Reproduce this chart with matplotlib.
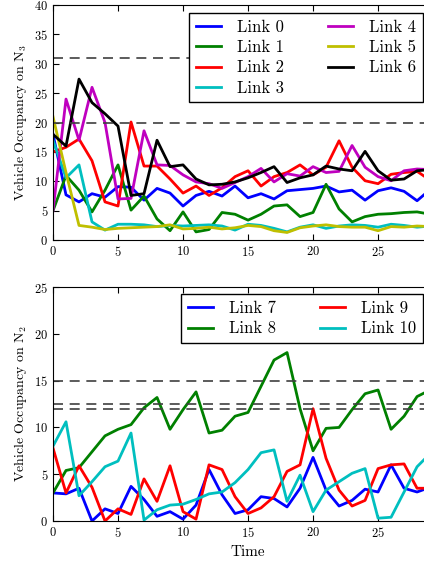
import matplotlib
matplotlib.use('Agg')
import matplotlib.pyplot as plt

plt.rcParams['font.family'] = 'cmr10'
plt.rcParams['mathtext.fontset'] = 'cm'
plt.rcParams['axes.formatter.use_mathtext'] = True

time = list(range(30))

# upper panel: links on N3
link0 = [18.0, 7.7, 6.5, 7.9, 7.3, 9.1, 9.0, 6.8, 8.8, 8.0, 5.8, 7.6, 8.3, 7.5, 9.2, 7.2,
         7.9, 7.0, 8.4, 8.6, 8.8, 9.2, 8.2, 8.5, 6.8, 8.4, 8.9, 8.3, 6.7, 8.6]
link1 = [5.0, 11.0, 8.5, 4.8, 8.5, 12.8, 5.1, 7.5, 3.6, 1.6, 4.8, 1.4, 1.8, 4.7, 4.4, 3.4,
         4.4, 5.8, 6.0, 4.0, 4.7, 9.5, 5.3, 3.1, 4.0, 4.4, 4.5, 4.7, 4.8, 4.4]
link2 = [15.0, 15.8, 17.2, 13.5, 6.5, 5.8, 20.1, 12.6, 12.6, 10.4, 8.0, 9.2, 7.6, 8.9, 10.8, 11.8,
         9.2, 10.8, 11.5, 12.8, 11.1, 12.4, 16.9, 12.4, 10.1, 9.6, 11.2, 11.5, 11.7, 10.2]
link3 = [17.0, 10.6, 12.8, 3.1, 1.7, 2.7, 2.7, 2.6, 2.3, 2.5, 2.4, 2.5, 2.6, 2.4, 1.7, 2.7,
         2.5, 2.0, 1.4, 2.2, 2.6, 2.0, 2.4, 2.6, 2.5, 2.2, 2.7, 2.5, 2.2, 2.4]
link4 = [5.0, 24.0, 17.0, 26.0, 20.0, 7.0, 7.1, 18.6, 12.8, 12.7, 11.1, 9.9, 9.6, 8.8, 9.8, 10.8,
         12.2, 9.9, 11.3, 10.9, 12.5, 11.5, 11.7, 16.1, 12.4, 10.8, 10.1, 11.8, 12.1, 12.0]
link5 = [21.0, 11.5, 2.5, 2.2, 1.8, 2.0, 2.1, 2.2, 2.3, 2.6, 1.9, 2.0, 2.2, 1.9, 2.1, 2.5,
         2.3, 1.6, 1.3, 2.1, 2.4, 2.6, 2.3, 2.2, 2.2, 1.6, 2.3, 2.2, 2.4, 2.3]
link6 = [18.0, 16.0, 27.4, 23.4, 21.5, 19.4, 7.6, 7.9, 17.0, 12.5, 12.8, 10.4, 9.4, 9.5, 9.9, 10.6,
         11.5, 12.5, 9.8, 10.6, 11.1, 12.6, 12.1, 11.8, 15.1, 11.8, 10.2, 10.4, 11.8, 12.0]
limits_n3 = [31, 20]

# lower panel: links on N2
link7 = [3.0, 2.9, 3.5, 0.0, 1.3, 0.8, 3.7, 2.3, 0.5, 1.0, 0.2, 1.7, 5.5, 2.8, 0.8, 1.2,
         2.6, 2.4, 1.5, 3.5, 6.8, 3.3, 1.6, 2.2, 3.4, 3.1, 6.0, 3.5, 3.1, 3.6]
link8 = [3.0, 5.4, 5.7, 7.4, 9.1, 9.8, 10.3, 12.1, 13.2, 9.8, 11.9, 13.8, 9.4, 9.7, 11.2, 11.6,
         14.4, 17.2, 18.0, 12.0, 7.5, 9.9, 10.0, 11.9, 13.6, 14.0, 9.8, 11.2, 13.3, 14.0]
link9 = [7.8, 3.0, 5.9, 3.6, 0.0, 1.3, 0.7, 4.5, 2.1, 5.9, 1.0, 0.2, 6.0, 5.5, 2.6, 0.8,
         1.4, 2.6, 5.3, 6.0, 12.0, 6.7, 3.3, 1.6, 2.2, 5.6, 6.0, 6.1, 3.5, 3.5]
link10 = [8.0, 10.6, 2.7, 4.2, 5.8, 6.4, 9.4, 0.1, 1.2, 1.7, 1.8, 2.3, 2.9, 3.1, 4.1, 5.5,
          7.3, 7.6, 2.1, 4.9, 1.0, 3.3, 4.2, 5.1, 5.6, 0.3, 0.4, 3.1, 5.8, 7.2]
limits_n2 = [15, 12.5, 12]

colors_top = ['b', 'g', 'r', (0, 0.75, 0.75), (0.75, 0, 0.75), (0.75, 0.75, 0), 'k']
colors_bot = ['b', 'g', 'r', (0, 0.75, 0.75)]


def style_axes(ax, ymax, step):
    ax.set_xlim(0, 30)
    ax.set_ylim(0, ymax)
    # the right part of the axes (x=30) falls outside the picture
    ax.set_xticks(range(0, 26, 5))
    ax.set_yticks(range(0, ymax + 1, step))
    ax.tick_params(direction='in', top=True, right=True, labelsize=9, length=4)


def add_legend(ax, anchor):
    leg = ax.legend(loc='upper right', bbox_to_anchor=anchor, ncol=2, fontsize=12,
                    fancybox=False, framealpha=1, edgecolor='k', handlelength=1.5,
                    borderpad=0.4, labelspacing=0.3, columnspacing=2.6, handletextpad=1.0,
                    borderaxespad=0)
    leg.get_frame().set_linewidth(1)
    return leg


fig = plt.figure(figsize=(4.24, 5.61), dpi=100)
ax1 = fig.add_axes([0.125, 0.572, 0.92, 0.419])
ax2 = fig.add_axes([0.125, 0.0713, 0.92, 0.417])

top_series = [link0, link1, link2, link3, link4, link5, link6]
for i, (vals, c) in enumerate(zip(top_series, colors_top)):
    ax1.plot(time, vals, color=c, lw=2, label='Link {}'.format(i))
for y in limits_n3:
    ax1.axhline(y, color='0.25', lw=1.2, ls=(0, (6, 4)))
style_axes(ax1, 40, 5)
ax1.set_ylabel('Vehicle Occupancy on N$_3$', fontsize=10)
add_legend(ax1, (0.949, 0.967))

bot_series = [link7, link8, link9, link10]
for i, (vals, c) in enumerate(zip(bot_series, colors_bot)):
    ax2.plot(time, vals, color=c, lw=2, label='Link {}'.format(i + 7))
for y in limits_n2:
    ax2.axhline(y, color='0.25', lw=1.2, ls=(0, (6, 4)))
style_axes(ax2, 25, 5)
ax2.set_ylabel('Vehicle Occupancy on N$_2$', fontsize=10)
ax2.set_xlabel('Time', fontsize=11)
add_legend(ax2, (0.949, 0.970))

fig.savefig('out.png', dpi=100)
